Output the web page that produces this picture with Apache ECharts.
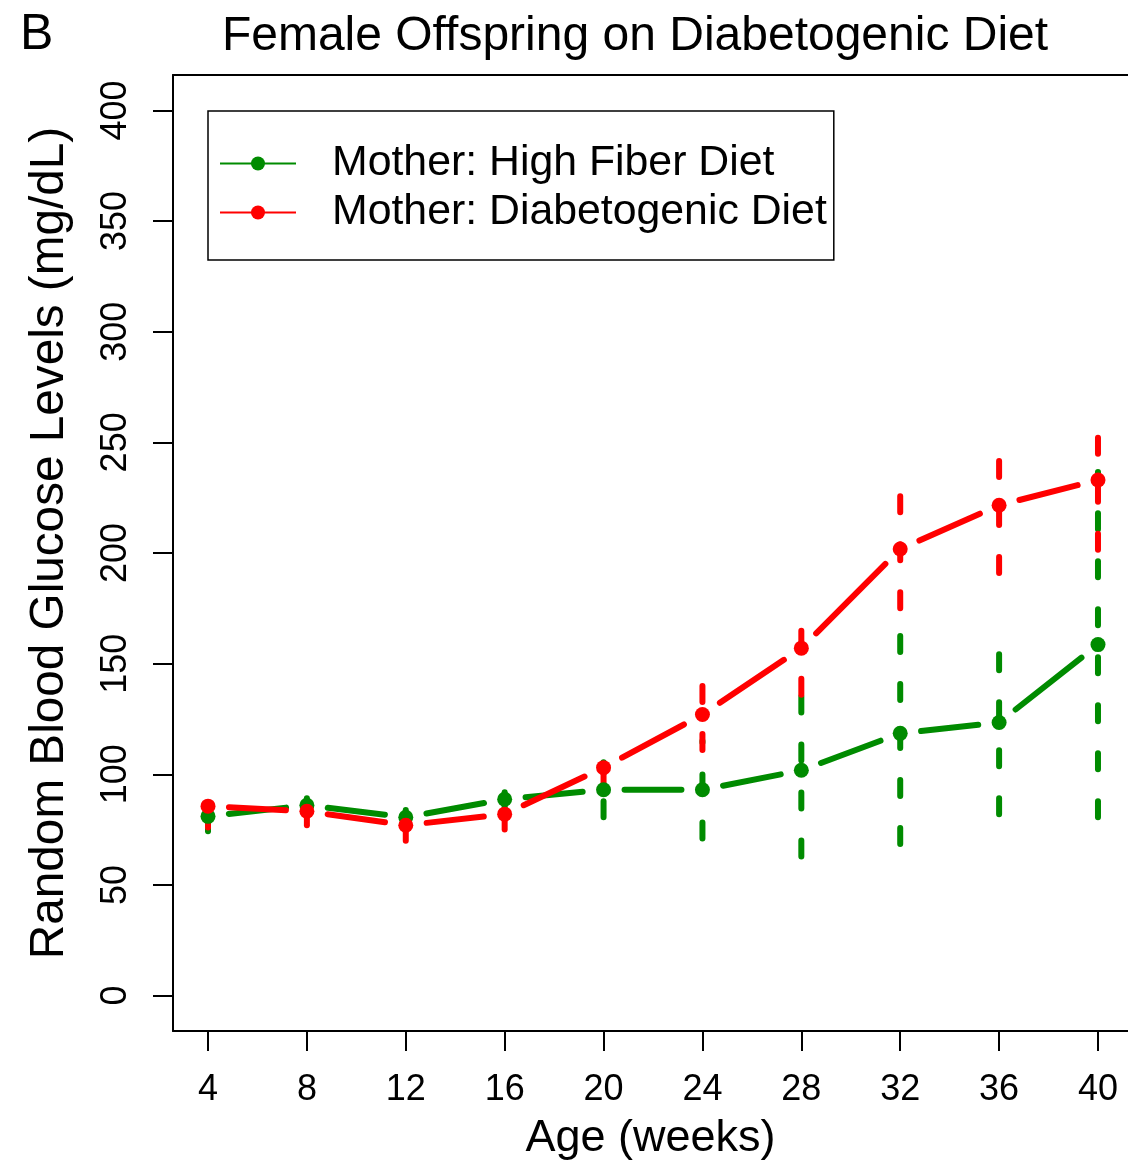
<!DOCTYPE html>
<html>
<head>
<meta charset="utf-8">
<script src="https://cdn.jsdelivr.net/npm/echarts@6/dist/echarts.min.js"></script>
<style>
  html, body { margin: 0; padding: 0; background: #fff; }
  #chart { width: 1128px; height: 1166px; }
</style>
</head>
<body>
<div id="chart"></div>
<script>
// age in weeks
var weeks = [4, 8, 12, 16, 20, 24, 28, 32, 36, 40];
var xTicks = [4, 8, 12, 16, 20, 24, 28, 32, 36, 40];
var yTicks = [0, 50, 100, 150, 200, 250, 300, 350, 400];

// mother: high fiber diet
var fiberMean = [81, 86, 80.6, 88.7, 93, 93, 101.8, 118.5, 123.4, 158.6];
var fiberErr = [6.7, 4, 4, 4, 12.4, 22, 39, 50, 41.4, 78];

// mother: diabetogenic diet
var diabMean = [85.6, 83.3, 77, 82, 103, 127, 157, 201.8, 221.6, 233];
var diabErr = [9.6, 6.3, 7, 7, 10, 16, 21, 26.8, 30.6, 31.5];

var green = '#008B00';
var red = '#FF0000';
var font = '"Liberation Sans", Arial, Helvetica, sans-serif';

// lines with a gap round each point (like R type = "b")
function gapLine(xs, ys, color) {
    return {
        type: 'custom',
        silent: true,
        renderItem: function (params, api) {
            var i = params.dataIndex;
            if (i >= xs.length - 1) return null;
            var p0 = api.coord([xs[i], ys[i]]);
            var p1 = api.coord([xs[i + 1], ys[i + 1]]);
            var dx = p1[0] - p0[0], dy = p1[1] - p0[1];
            var len = Math.sqrt(dx * dx + dy * dy);
            var gap = 21;
            if (len <= 2 * gap) return null;
            var ux = dx / len, uy = dy / len;
            return {
                type: 'line',
                shape: {
                    x1: p0[0] + ux * gap, y1: p0[1] + uy * gap,
                    x2: p1[0] - ux * gap, y2: p1[1] - uy * gap
                },
                style: { stroke: color, lineWidth: 6, lineCap: 'round' }
            };
        },
        data: xs.map((x, i) => [x, ys[i]])
    };
}

// dashed error bars, drawn from low end upward
function errBars(xs, mean, err, color) {
    return {
        type: 'custom',
        silent: true,
        renderItem: function (params, api) {
            var a = api.coord([api.value(0), api.value(1)]);
            var b = api.coord([api.value(0), api.value(2)]);
            return {
                type: 'line',
                shape: { x1: a[0], y1: a[1], x2: b[0], y2: b[1] },
                style: { stroke: color, lineWidth: 6, lineCap: 'round', lineDash: [16, 32] }
            };
        },
        data: xs.map((x, i) => [x, mean[i] - err[i], mean[i] + err[i]])
    };
}

function points(name, xs, ys, color) {
    return {
        name: name,
        type: 'line',
        symbol: 'circle',
        symbolSize: 15,
        showSymbol: true,
        itemStyle: { color: color },
        lineStyle: { color: color, opacity: 0 },
        emphasis: { disabled: true },
        data: xs.map((x, i) => [x, ys[i]])
    };
}

var axisLineStyle = { color: '#000', width: 2 };

var chart = echarts.init(document.getElementById('chart'));
var option = {
    animation: false,
    textStyle: { fontFamily: font },
    grid: {
        left: 173, top: 75, right: 0, height: 959,
        show: false,
        containLabel: false
    },
    graphic: [
        {
            type: 'text', left: 20, top: 10,
            style: { text: 'B', font: '50px ' + font, fill: '#000' }
        },
        {
            type: 'text', x: 635, y: 37,
            style: {
                text: 'Female Offspring on Diabetogenic Diet',
                font: '48px ' + font, fill: '#000',
                textAlign: 'center', textVerticalAlign: 'middle'
            }
        }
    ],
    legend: {
        orient: 'vertical',
        left: 208, top: 111,
        padding: [31, 7, 26, 11],
        borderColor: '#000', borderWidth: 1.5,
        itemWidth: 76, itemHeight: 17.5, itemGap: 6,
        selectedMode: false,
        textStyle: { fontSize: 42.8, color: '#000', padding: [0, 0, 0, 31] },
        data: [
            { name: 'Mother: High Fiber Diet', lineStyle: { color: green, width: 2, opacity: 1 } },
            { name: 'Mother: Diabetogenic Diet', lineStyle: { color: red, width: 2, opacity: 1 } }
        ]
    },
    xAxis: [
        {
            type: 'value',
            position: 'bottom',
            min: 2.584, max: 41.214,
            name: 'Age (weeks)',
            nameLocation: 'middle',
            nameGap: 85,
            nameTextStyle: { fontSize: 45, color: '#000', verticalAlign: 'top' },
            axisLine: { show: true, onZero: false, lineStyle: axisLineStyle },
            splitLine: { show: false },
            axisTick: { show: true, inside: false, length: 20, lineStyle: axisLineStyle, customValues: xTicks },
            axisLabel: { fontSize: 36, color: '#000', margin: 41, customValues: xTicks }
        },
        {
            type: 'value',
            position: 'top',
            min: 2.584, max: 41.214,
            axisLine: { show: true, onZero: false, lineStyle: axisLineStyle },
            splitLine: { show: false },
            axisTick: { show: false },
            axisLabel: { show: false }
        }
    ],
    yAxis: {
        type: 'value',
        min: -16, max: 416,
        name: 'Random Blood Glucose Levels (mg/dL)',
        nameLocation: 'middle',
        nameRotate: 90,
        nameGap: 99,
        nameTextStyle: { fontSize: 47.7, color: '#000', padding: [0, 0, 0, 20] },
        axisLine: { show: true, onZero: false, lineStyle: axisLineStyle },
        splitLine: { show: false },
        axisTick: { show: true, inside: false, length: 20, lineStyle: axisLineStyle, customValues: yTicks },
        axisLabel: { fontSize: 36, color: '#000', margin: 39, rotate: 90, customValues: yTicks }
    },
    series: [
        gapLine(weeks, fiberMean, green),
        points('Mother: High Fiber Diet', weeks, fiberMean, green),
        gapLine(weeks, diabMean, red),
        points('Mother: Diabetogenic Diet', weeks, diabMean, red),
        errBars(weeks, fiberMean, fiberErr, green),
        errBars(weeks, diabMean, diabErr, red)
    ]
};
chart.setOption(option);
</script>
</body>
</html>
